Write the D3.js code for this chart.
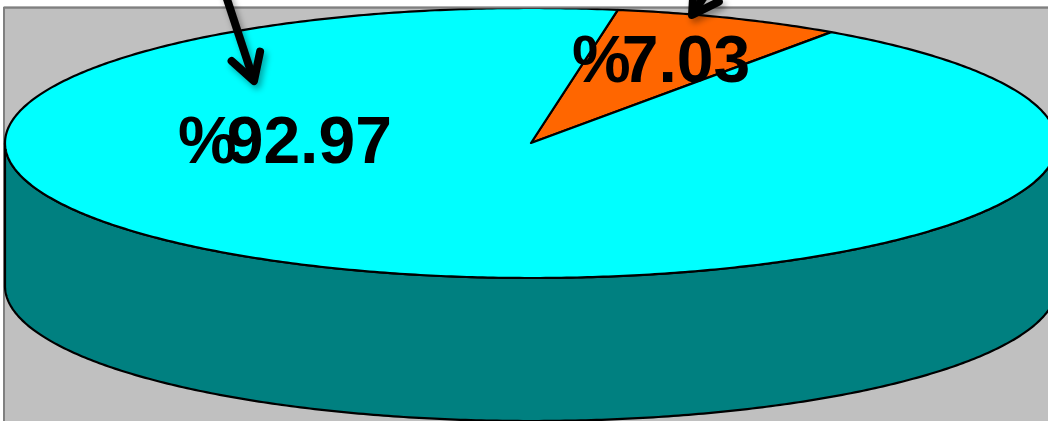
<!DOCTYPE html>
<html>
<head>
<meta charset="utf-8">
<script src="https://cdn.jsdelivr.net/npm/d3@7"></script>
<style>
    body { margin: 0; background: #fff; overflow: hidden; }
    svg { display: block; }
</style>
</head>
<body>
<div id="chart"></div>
<script>
// data
const labels = ['B', 'A']
const values = [7.03, 92.97]
const topColors = ['#ff6600', '#00ffff']
const sideColor = '#008080'

const width = 1048
const height = 421

// layout of the 3d pie
const cx = 531, cy = 143
const rx = 526, ry = 135
const depth = 143
const startDeg = 9.5

const svg = d3.select('#chart')
    .append('svg')
    .attr('width', width)
    .attr('height', height)

const defs = svg.append('defs')
defs.append('filter')
    .attr('id', 'shadow')
    .attr('x', '-50%').attr('y', '-50%')
    .attr('width', '200%').attr('height', '200%')
    .append('feDropShadow')
    .attr('dx', 3).attr('dy', 4)
    .attr('stdDeviation', 3)
    .attr('flood-color', '#000')
    .attr('flood-opacity', 0.35)

// plot area
svg.append('rect')
    .attr('x', 4)
    .attr('y', 7.5)
    .attr('width', width + 10)
    .attr('height', height)
    .style('fill', '#c0c0c0')
    .style('stroke', '#808080')
    .style('stroke-width', 2)

const xScale = d3.scaleLinear().domain([-1, 1]).range([cx - rx, cx + rx])
const yScale = d3.scaleLinear().domain([-1, 1]).range([cy - ry, cy + ry])

// angle 0 is 12 o'clock, clockwise
const px = a => xScale(Math.sin(a))
const py = (a, off = 0) => yScale(-Math.cos(a)) + off

const pie = d3.pie()
    .sort(null)
    .startAngle(startDeg * Math.PI / 180)
    .endAngle(startDeg * Math.PI / 180 + 2 * Math.PI)
const arcs = pie(values)

const line = d3.line()

function arcPoints(a0, a1, off = 0) {
    const n = Math.max(4, Math.ceil(Math.abs(a1 - a0) / 0.01))
    return d3.range(n + 1).map(i => {
        const a = a0 + (a1 - a0) * i / n
        return [px(a), py(a, off)]
    })
}

// side wall: front half of the rim, from 3 o'clock round to 9 o'clock
const front0 = Math.PI / 2, front1 = 3 * Math.PI / 2
const sidePts = arcPoints(front0, front1)
    .concat(arcPoints(front1, front0, depth))

svg.append('path')
    .attr('d', line(sidePts) + 'Z')
    .style('fill', sideColor)
    .style('stroke', '#000')
    .style('stroke-width', 2.2)
    .style('stroke-linejoin', 'round')

// top slices
svg.selectAll('path.slice')
    .data(arcs)
    .join('path')
    .attr('class', 'slice')
    .attr('d', d => line([[cx, cy]].concat(arcPoints(d.startAngle, d.endAngle))) + 'Z')
    .style('fill', (d, i) => topColors[i])
    .style('stroke', '#000')
    .style('stroke-width', 2.2)
    .style('stroke-linejoin', 'round')

// labels
const labelPos = [[572, 82], [178, 163]]
const labelGap = [-9, -10]

const texts = svg.selectAll('text.lbl')
    .data(arcs)
    .join('text')
    .attr('class', 'lbl')
    .attr('x', (d, i) => labelPos[i][0])
    .attr('y', (d, i) => labelPos[i][1])
    .style('font-family', '"Liberation Sans", Arial, sans-serif')
    .style('font-weight', 'bold')
    .style('font-size', '66px')
    .style('fill', '#000')

texts.append('tspan').text('%')
texts.append('tspan')
    .attr('dx', (d, i) => labelGap[i])
    .text(d => d.data.toFixed(2))

// white strip above the frame
svg.append('rect')
    .attr('x', 0).attr('y', 0)
    .attr('width', width).attr('height', 6.5)
    .style('fill', '#fff')
svg.append('line')
    .attr('x1', 4).attr('x2', width)
    .attr('y1', 7.5).attr('y2', 7.5)
    .style('stroke', '#808080')
    .style('stroke-width', 2)

// leader arrows coming from above the frame
const arrows = [
    { from: [735, -50], to: [692, 15] },
    { from: [224, -10], to: [254, 81] }
]

const ag = svg.append('g').attr('filter', 'url(#shadow)')
arrows.forEach(a => {
    const dx = a.to[0] - a.from[0], dy = a.to[1] - a.from[1]
    const len = Math.hypot(dx, dy)
    const ux = dx / len, uy = dy / len
    const back = 26, half = 15
    const bx = a.to[0] - ux * back, by = a.to[1] - uy * back
    ag.append('path')
        .attr('d', line([a.from, a.to]))
        .style('stroke', '#000')
        .style('stroke-width', 8)
        .style('fill', 'none')
    ag.append('path')
        .attr('d', line([[bx - uy * half, by + ux * half], a.to, [bx + uy * half, by - ux * half]]))
        .style('stroke', '#000')
        .style('stroke-width', 8)
        .style('stroke-linecap', 'round')
        .style('stroke-linejoin', 'round')
        .style('fill', 'none')
})
</script>
</body>
</html>
